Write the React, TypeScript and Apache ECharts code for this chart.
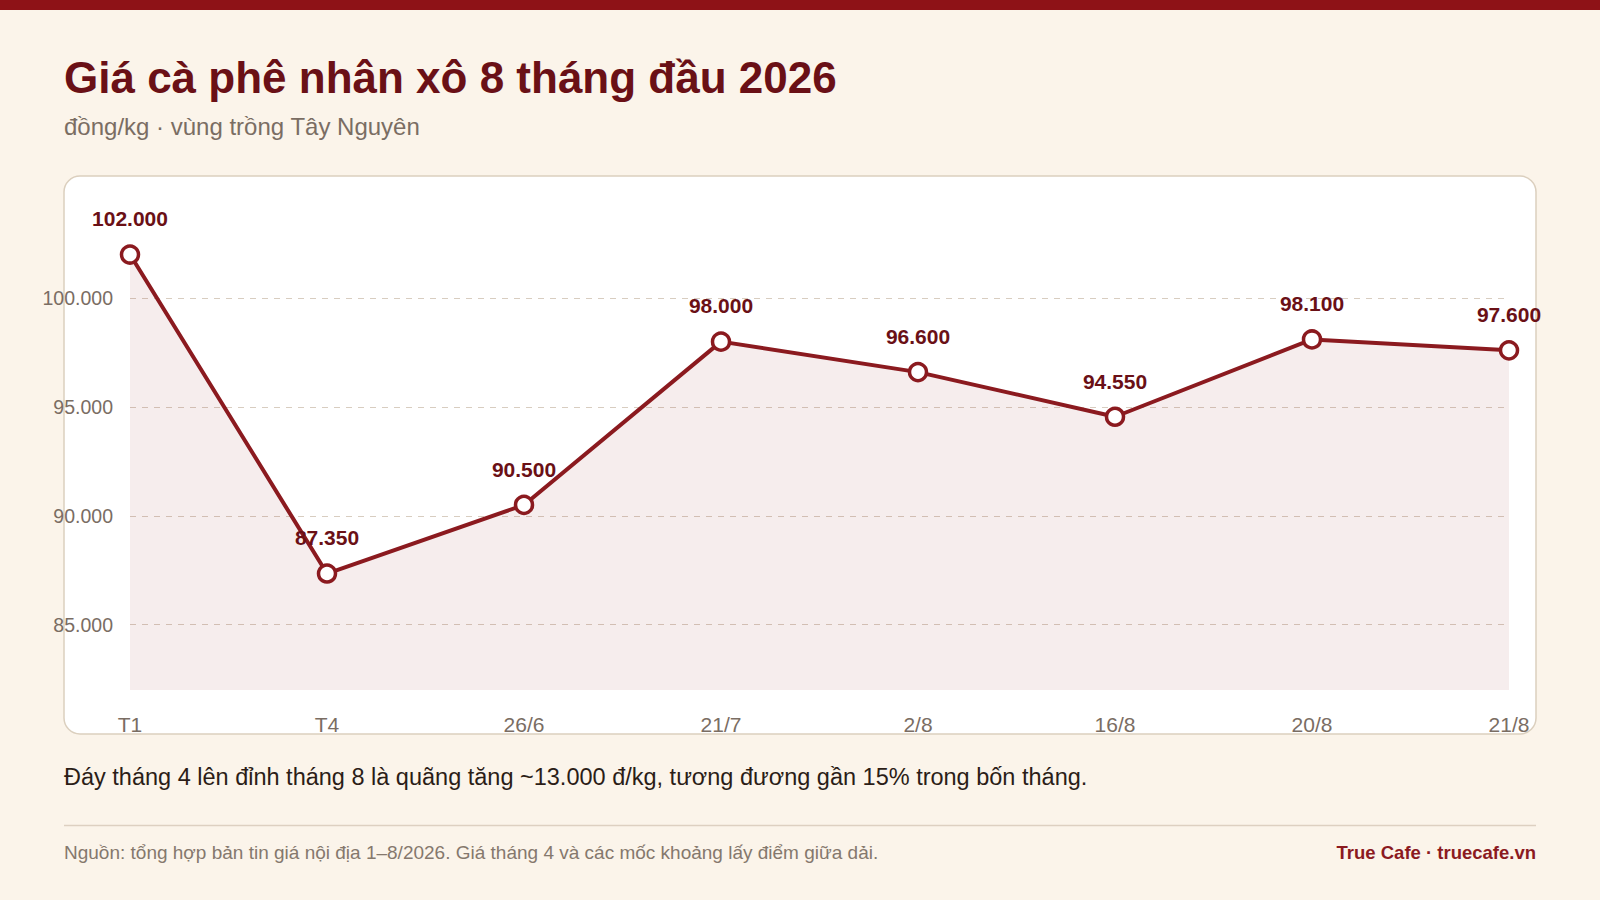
import { useEffect, useRef } from 'react';
import * as echarts from 'echarts';

// Data
const dates = ['T1', 'T4', '26/6', '21/7', '2/8', '16/8', '20/8', '21/8'];
const prices = [102000, 87350, 90500, 98000, 96600, 94550, 98100, 97600];

const yMin = 82000;
const yMax = 104000;

const FONT = '"Liberation Sans", Arial, Helvetica, sans-serif';
const RED = '#8b1a1f';
const DARK_RED = '#6a1016';
const MUTED = '#7a6d63';

const fmt = (v: number) => v.toLocaleString('de-DE');

export default function App() {
  const chartRef = useRef<HTMLDivElement>(null);

  useEffect(() => {
    if (!chartRef.current) return;
    document.body.style.margin = '0';
    document.body.style.background = '#fbf4ea';

    const chart = echarts.init(chartRef.current, null, { renderer: 'svg' });

    const option: echarts.EChartsOption = {
      animation: false,
      backgroundColor: '#fbf4ea',
      textStyle: { fontFamily: FONT },
      title: [
        {
          text: 'Giá cà phê nhân xô 8 tháng đầu 2026',
          left: 64,
          top: 55,
          padding: 0,
          textStyle: { color: DARK_RED, fontSize: 44, fontWeight: 'bold', fontFamily: FONT },
        },
        {
          text: 'đồng/kg · vùng trồng Tây Nguyên',
          left: 64,
          top: 114,
          padding: 0,
          textStyle: { color: MUTED, fontSize: 24, fontWeight: 'normal', fontFamily: FONT },
        },
        {
          text: 'Đáy tháng 4 lên đỉnh tháng 8 là quãng tăng ~13.000 đ/kg, tương đương gần 15% trong bốn tháng.',
          left: 64,
          top: 765,
          padding: 0,
          textStyle: { color: '#2b1d17', fontSize: 23.5, fontWeight: 'normal', fontFamily: FONT },
        },
        {
          text: 'Nguồn: tổng hợp bản tin giá nội địa 1–8/2026. Giá tháng 4 và các mốc khoảng lấy điểm giữa dải.',
          left: 64,
          top: 843,
          padding: 0,
          textStyle: { color: '#85786d', fontSize: 19, fontWeight: 'normal', fontFamily: FONT },
        },
        {
          text: 'True Cafe · truecafe.vn',
          right: 64,
          top: 843,
          padding: 0,
          textStyle: { color: RED, fontSize: 18.5, fontWeight: 'bold', fontFamily: FONT },
        },
      ],
      graphic: [
        {
          type: 'rect',
          z: -10,
          shape: { x: 0, y: 0, width: 1600, height: 10 },
          style: { fill: '#8e1217' },
        },
        {
          type: 'rect',
          z: -10,
          shape: { x: 64, y: 176, width: 1472, height: 558, r: 16 },
          style: { fill: '#ffffff', stroke: '#dbcfbe', lineWidth: 1.5 },
        },
        {
          type: 'line',
          z: -10,
          shape: { x1: 64, y1: 825.5, x2: 1536, y2: 825.5 },
          style: { stroke: '#ddd0c1', lineWidth: 1.5 },
        },
      ],
      grid: {
        left: 130,
        right: 91,
        top: 211,
        bottom: 210,
        containLabel: false,
      },
      xAxis: {
        type: 'category',
        data: dates,
        boundaryGap: false,
        axisLine: { show: false },
        axisTick: { show: false },
        axisLabel: {
          color: MUTED,
          fontSize: 21,
          margin: 24,
          fontFamily: FONT,
          interval: 0,
        },
        splitLine: { show: false },
      },
      yAxis: {
        type: 'value',
        min: yMin,
        max: yMax,
        splitNumber: 5,
        axisLine: { show: false },
        axisTick: { show: false },
        axisLabel: {
          color: MUTED,
          fontSize: 19.5,
          margin: 17,
          fontFamily: FONT,
          showMinLabel: false,
          showMaxLabel: false,
          formatter: (v: number) => fmt(v),
        },
        splitLine: {
          show: true,
          showMinLine: false,
          showMaxLine: false,
          lineStyle: { color: '#d8cdc0', type: [6, 6], width: 1 },
        } as any,
      },
      series: [
        {
          type: 'line',
          data: prices,
          symbol: 'circle',
          symbolSize: 17,
          showAllSymbol: true,
          lineStyle: { color: RED, width: 4 },
          itemStyle: { color: '#ffffff', borderColor: RED, borderWidth: 3.5 },
          areaStyle: { color: 'rgba(139, 26, 31, 0.11)', origin: 'start' },
          label: {
            show: true,
            position: 'top',
            distance: 15,
            color: DARK_RED,
            fontSize: 21,
            fontWeight: 'bold',
            fontFamily: FONT,
            formatter: (p: any) => fmt(p.value),
          },
          emphasis: { disabled: true },
        },
      ],
    };

    chart.setOption(option);

    return () => {
      chart.dispose();
    };
  }, []);

  return <div ref={chartRef} style={{ width: 1600, height: 900 }} />;
}
